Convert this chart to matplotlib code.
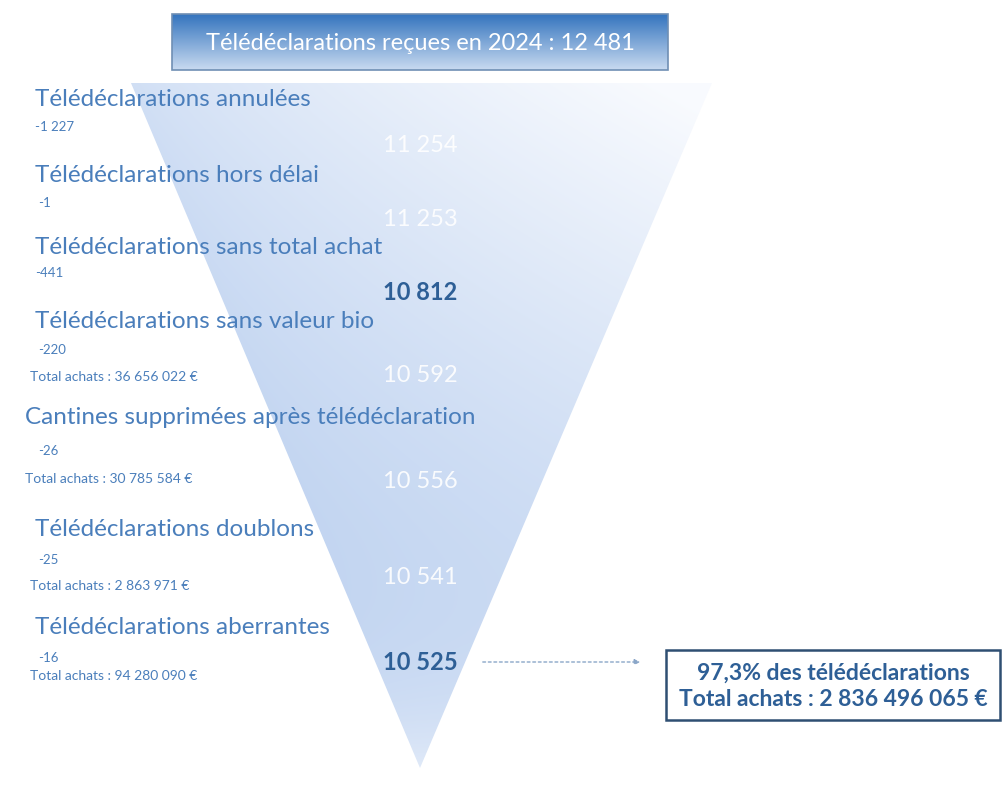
import numpy as np
import matplotlib.pyplot as plt
from matplotlib.patches import Polygon, Rectangle

plt.rcParams['font.family'] = ['Lato', 'DejaVu Sans']

# Data
header = 'Télédéclarations reçues en 2024 : 12 481'
steps = ['Télédéclarations annulées',
         'Télédéclarations hors délai',
         'Télédéclarations sans total achat',
         'Télédéclarations sans valeur bio',
         'Cantines supprimées après télédéclaration',
         'Télédéclarations doublons',
         'Télédéclarations aberrantes']
deltas = ['-1 227', '-1', '-441', '-220', '-26', '-25', '-16']
totals = [None, None, None, 'Total achats : 36 656 022 €', 'Total achats : 30 785 584 €',
          'Total achats : 2 863 971 €', 'Total achats : 94 280 090 €']
remaining = ['11 254', '11 253', '10 812', '10 592', '10 556', '10 541', '10 525']
highlight = [False, False, True, False, False, False, True]
final_lines = ['97,3% des télédéclarations', 'Total achats : 2 836 496 065 €']

# Layout (pixel coordinates)
label_y = [100, 175, 248, 322, 418, 530, 628]
label_x = [35, 35, 35, 35, 25, 35, 35]
delta_y = [127, 203, 273, 350, 451, 560, 658]
delta_x = [35, 38, 35, 38, 38, 38, 38]
total_y = [None, None, None, 377, 479, 586, 676]
total_x = [None, None, None, 30, 25, 30, 30]
remain_y = [145, 220, 293, 375, 482, 578, 663]

blue_txt = '#4a7ebb'
dark_txt = '#2e5f96'

fig = plt.figure(figsize=(10.08, 7.91), dpi=100)
ax = fig.add_axes([0, 0, 1, 1])
ax.set_xlim(0, 1008)
ax.set_ylim(791, 0)
ax.axis('off')

# Funnel triangle with gradient
tl, tr, tip = (131, 83), (712, 83), (420, 768)
H, W = 700, 600
xs = np.linspace(tl[0], tr[0], W)
ys = np.linspace(tl[1], tip[1], H)
X, Y = np.meshgrid(xs, ys)
yf = (Y - tl[1]) / (tip[1] - tl[1])
left = tl[0] + (tip[0] - tl[0]) * yf
right = tr[0] + (tip[0] - tr[0]) * yf
tx = np.clip((X - left) / np.maximum(right - left, 1), 0, 1)
w = (1 - yf) ** 1.5 * (0.3 + 0.7 * tx ** 0.8) + 0.55 * yf ** 8
w = np.clip(w, 0, 0.95)
blue = np.array([190, 210, 240]) / 255
white = np.array([252, 253, 255]) / 255
img = blue[None, None, :] * (1 - w[..., None]) + white[None, None, :] * w[..., None]
im = ax.imshow(img, extent=(tl[0], tr[0], tip[1], tl[1]), zorder=1, interpolation='bilinear')
tri = Polygon([tl, tr, tip], closed=True, facecolor='none', edgecolor='none')
ax.add_patch(tri)
im.set_clip_path(tri)

# Header box with vertical gradient
hx0, hx1, hy0, hy1 = 172, 668, 14, 70
grad = np.linspace(0, 1, 100)[:, None]
top_c = np.array([52, 116, 190]) / 255
bot_c = np.array([200, 218, 240]) / 255
himg = top_c[None, None, :] * (1 - grad[..., None]) + bot_c[None, None, :] * grad[..., None]
himg = np.repeat(himg, 2, axis=1)
ax.imshow(himg, extent=(hx0, hx1, hy1, hy0), zorder=2, aspect='auto')
ax.add_patch(Rectangle((hx0, hy0), hx1 - hx0, hy1 - hy0, fill=False,
                       edgecolor='#6f8fb4', linewidth=1.2, zorder=3))
ax.text((hx0 + hx1) / 2, 43, header, color='white', fontsize=17,
        ha='center', va='center', zorder=4)
ax.set_xlim(0, 1008)
ax.set_ylim(791, 0)

# Step labels
for i in range(len(steps)):
    ax.text(label_x[i], label_y[i], steps[i], color=blue_txt, fontsize=17.5,
            ha='left', va='center', zorder=5)
    ax.text(delta_x[i], delta_y[i], deltas[i], color=blue_txt, fontsize=9.5,
            ha='left', va='center', zorder=5)
    if totals[i]:
        ax.text(total_x[i], total_y[i], totals[i], color=blue_txt, fontsize=10,
                ha='left', va='center', zorder=5)
    if highlight[i]:
        ax.text(420, remain_y[i], remaining[i], color=dark_txt, fontsize=17,
                fontweight='bold', ha='center', va='center', zorder=5)
    else:
        ax.text(420, remain_y[i], remaining[i], color='white', fontsize=17,
                ha='center', va='center', zorder=5, alpha=0.9)

# Arrow to final box
ax.annotate('', xy=(643, 662), xytext=(480, 662),
            arrowprops=dict(arrowstyle='-|>', linestyle=(0, (2, 2)), color='#8aa6c8',
                            linewidth=1, mutation_scale=8), zorder=5)

# Final box
ax.add_patch(Rectangle((666, 650), 334, 70, facecolor='white',
                       edgecolor='#2f4f72', linewidth=1.8, zorder=5))
ax.text(833, 673, final_lines[0], color=dark_txt, fontsize=16.5, fontweight='bold',
        ha='center', va='center', zorder=6)
ax.text(833, 699, final_lines[1], color=dark_txt, fontsize=16.5, fontweight='bold',
        ha='center', va='center', zorder=6)

fig.savefig('out.png', dpi=100, facecolor='white')
